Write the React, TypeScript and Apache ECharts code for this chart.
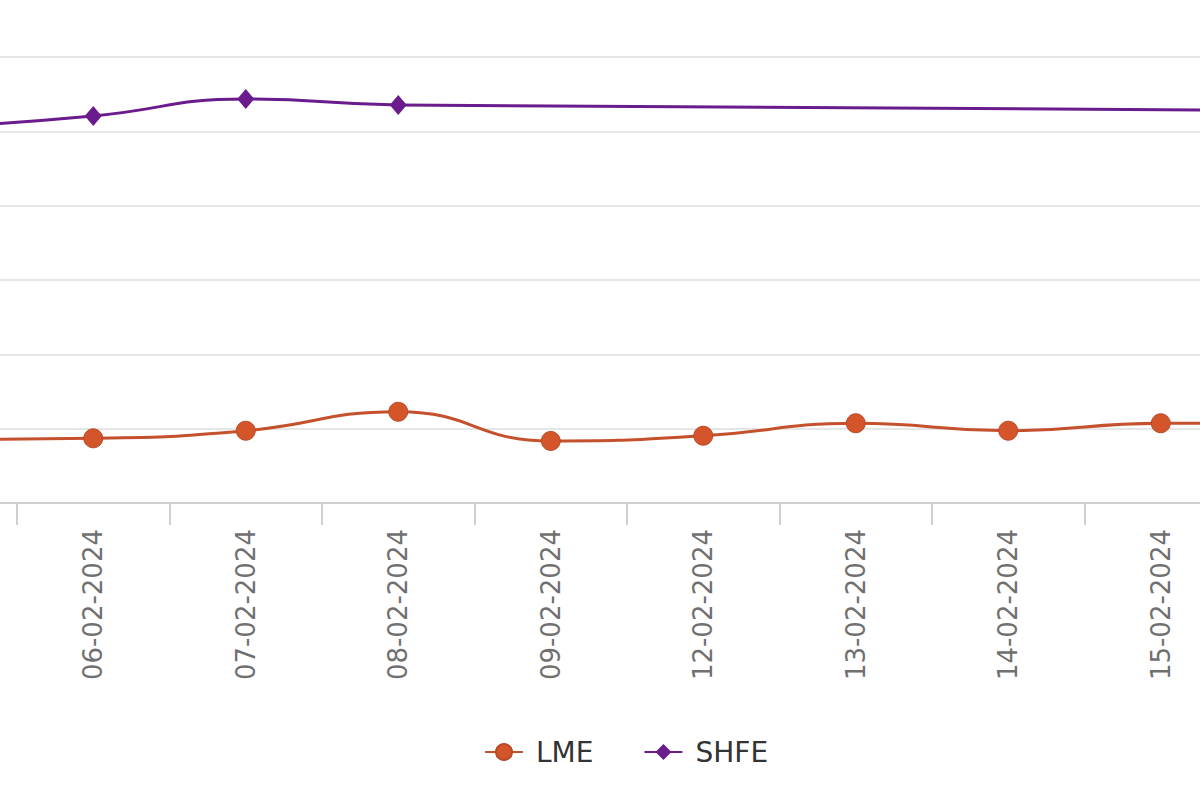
import { useEffect, useRef } from "react";
import * as echarts from "echarts";

const DATES = [
  "05-02-2024",
  "06-02-2024",
  "07-02-2024",
  "08-02-2024",
  "09-02-2024",
  "12-02-2024",
  "13-02-2024",
  "14-02-2024",
  "15-02-2024",
  "16-02-2024",
  "19-02-2024",
];

// SHFE was shut for the holiday from 09-02 to 16-02
const LME = [3420, 3480, 3890, 4910, 3340, 3620, 4290, 3890, 4290, 4280, 4300];
const SHFE = [20230, 20830, 21740, 21420, null, null, null, null, null, null, 21060];

// only these dates fall inside the visible crop
const VISIBLE_FIRST = 1;
const VISIBLE_LAST = 8;

const LME_COLOR = "#D5552B";
const SHFE_COLOR = "#6A1B8C";
const FONT = "DejaVu Sans";

// the picture is a crop of a wider chart: the canvas runs past both edges
const SHIFT = 300;
const CANVAS_W = 2000;

export default function App() {
  const ref = useRef<HTMLDivElement | null>(null);

  useEffect(() => {
    if (!ref.current) return;
    const chart = echarts.init(ref.current, undefined, { renderer: "svg" });

    chart.setOption({
      animation: false,
      backgroundColor: "#ffffff",
      grid: {
        left: SHIFT - 135.5,
        top: 57,
        width: 1677.5,
        height: 446,
        containLabel: false,
      },
      legend: {
        left: SHIFT + 479,
        top: 733,
        itemWidth: 38,
        itemHeight: 20,
        itemGap: 50,
        textStyle: {
          fontFamily: FONT,
          fontSize: 28,
          color: "#333333",
          padding: [0, 0, 0, 8],
        },
        data: ["LME", "SHFE"],
      },
      xAxis: {
        type: "category",
        data: DATES,
        boundaryGap: true,
        axisLine: { lineStyle: { color: "#cfcfcf", width: 2 } },
        axisTick: {
          show: true,
          interval: 0,
          length: 22,
          lineStyle: { color: "#cfcfcf", width: 2 },
        },
        axisLabel: {
          rotate: 90,
          margin: 26,
          interval: (i: number) => i >= VISIBLE_FIRST && i <= VISIBLE_LAST,
          fontFamily: FONT,
          fontSize: 26,
          color: "#707070",
        },
      },
      yAxis: {
        type: "value",
        min: 0,
        max: 24000,
        interval: 4000,
        axisLine: { show: false },
        axisTick: { show: false },
        axisLabel: { show: false },
        splitLine: { lineStyle: { color: "#e6e6e6", width: 2 } },
      },
      series: [
        {
          name: "LME",
          type: "line",
          data: LME,
          smooth: true,
          symbol: "circle",
          symbolSize: 19,
          lineStyle: { color: "#C4502C", width: 3 },
          itemStyle: { color: LME_COLOR, borderColor: "#B84A28", borderWidth: 1 },
        },
        {
          name: "SHFE",
          type: "line",
          data: SHFE,
          smooth: true,
          connectNulls: true,
          symbol: "diamond",
          symbolSize: [17, 20],
          lineStyle: { color: SHFE_COLOR, width: 3 },
          itemStyle: { color: SHFE_COLOR },
        },
      ],
    });

    return () => chart.dispose();
  }, []);

  return (
    <div
      style={{
        position: "fixed",
        left: 0,
        top: 0,
        width: 1200,
        height: 800,
        overflow: "hidden",
        background: "#ffffff",
      }}
    >
      <div
        ref={ref}
        style={{ position: "absolute", left: -SHIFT, top: 0, width: CANVAS_W, height: 800 }}
      />
    </div>
  );
}
